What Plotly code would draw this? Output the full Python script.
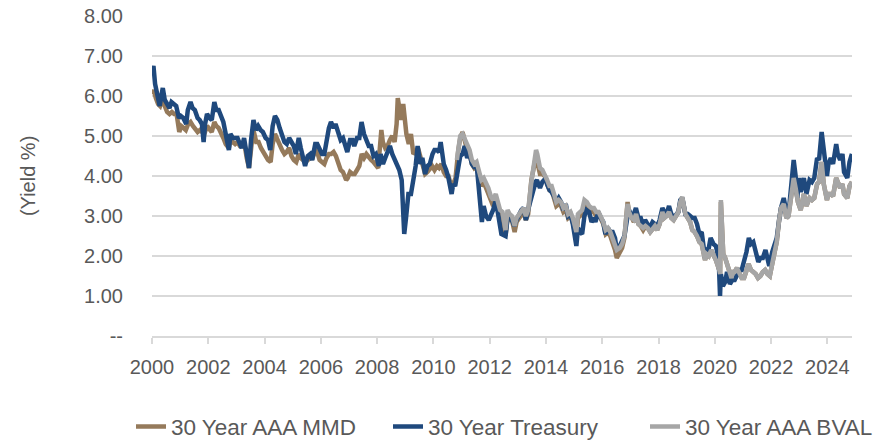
import plotly.graph_objects as go

# ---- data ----
treasury = [
("2000-01-03",6.60),("2000-01-20",6.75),("2000-02-10",6.30),("2000-03-01",6.15),("2000-03-20",5.95),
("2000-04-10",5.75),("2000-05-01",6.00),("2000-05-20",6.20),("2000-06-15",5.90),("2000-07-15",5.80),
("2000-08-15",5.70),("2000-09-10",5.85),("2000-10-10",5.80),("2000-11-10",5.75),("2000-12-15",5.45),
("2001-01-10",5.50),("2001-02-10",5.45),("2001-03-20",5.30),("2001-04-10",5.65),("2001-05-15",5.85),
("2001-06-10",5.70),("2001-07-10",5.65),("2001-08-15",5.45),("2001-09-10",5.40),("2001-10-10",5.30),
("2001-11-01",4.85),("2001-11-20",5.30),("2001-12-15",5.55),("2002-01-15",5.45),("2002-02-15",5.40),
("2002-03-20",5.85),("2002-04-15",5.65),("2002-05-15",5.65),("2002-06-15",5.50),("2002-07-15",5.35),
("2002-08-15",5.05),("2002-09-25",4.65),("2002-10-15",5.05),("2002-11-15",4.95),("2002-12-15",4.95),
("2003-01-15",4.95),("2003-02-15",4.80),("2003-03-10",4.70),("2003-04-10",4.95),("2003-05-10",4.50),
("2003-06-13",4.20),("2003-07-10",4.90),("2003-08-10",5.40),("2003-09-10",5.15),("2003-10-10",5.25),
("2003-11-10",5.15),("2003-12-10",5.10),("2004-01-15",4.95),("2004-02-15",4.90),("2004-03-15",4.65),
("2004-04-15",5.25),("2004-05-15",5.50),("2004-06-15",5.40),("2004-07-15",5.20),("2004-08-15",5.00),
("2004-09-15",4.85),("2004-10-15",4.80),("2004-11-15",4.95),("2004-12-15",4.85),("2005-01-15",4.75),
("2005-02-10",4.55),("2005-03-20",4.95),("2005-04-15",4.70),("2005-05-15",4.50),("2005-06-10",4.25),
("2005-07-15",4.50),("2005-08-15",4.55),("2005-09-10",4.40),("2005-10-20",4.80),("2005-11-15",4.80),
("2005-12-15",4.70),("2006-01-15",4.55),("2006-02-15",4.55),("2006-03-15",4.90),("2006-04-15",5.20),
("2006-05-12",5.35),("2006-06-15",5.20),("2006-07-10",5.30),("2006-08-15",5.05),("2006-09-15",4.90),
("2006-10-15",4.95),("2006-11-20",4.65),("2006-12-10",4.60),("2007-01-15",4.90),("2007-02-15",4.90),
("2007-03-10",4.75),("2007-04-15",4.95),("2007-05-15",4.95),("2007-06-13",5.35),("2007-07-15",5.05),
("2007-08-15",4.90),("2007-09-15",4.75),("2007-10-15",4.75),("2007-11-15",4.50),("2007-12-15",4.55),
("2008-01-23",4.25),("2008-02-15",4.55),("2008-03-17",4.30),("2008-04-15",4.45),("2008-05-15",4.60),
("2008-06-15",4.75),("2008-07-15",4.55),("2008-08-15",4.40),("2008-09-15",4.25),("2008-10-15",4.15),
("2008-11-15",3.90),("2008-12-05",3.10),("2008-12-18",2.55),("2009-01-10",2.95),("2009-02-10",3.55),
("2009-03-15",3.55),("2009-04-15",3.90),("2009-05-15",4.25),("2009-06-10",4.75),("2009-07-15",4.30),
("2009-08-10",4.45),("2009-09-15",4.05),("2009-10-15",4.25),("2009-11-15",4.30),("2009-12-20",4.55),
("2010-01-15",4.65),("2010-02-15",4.65),("2010-03-15",4.60),("2010-04-05",4.85),("2010-05-15",4.30),
("2010-06-15",4.15),("2010-07-15",3.95),("2010-08-25",3.55),("2010-09-15",3.80),("2010-10-10",3.75),
("2010-11-15",4.25),("2010-12-15",4.50),("2011-01-15",4.55),("2011-02-10",4.75),("2011-03-15",4.45),
("2011-04-10",4.60),("2011-05-15",4.30),("2011-06-25",4.20),("2011-07-15",4.30),("2011-08-15",3.65),
("2011-09-22",2.85),("2011-10-15",3.25),("2011-11-15",3.00),("2011-12-20",2.90),("2012-01-15",3.00),
("2012-02-15",3.15),("2012-03-20",3.40),("2012-04-15",3.10),("2012-05-15",2.85),("2012-06-01",2.55),
("2012-07-25",2.50),("2012-08-20",2.95),("2012-09-15",3.05),("2012-10-15",2.90),("2012-11-15",2.75),
("2012-12-15",2.90),("2013-01-15",3.05),("2013-02-15",3.15),("2013-03-15",3.20),("2013-04-15",2.90),
("2013-05-20",3.20),("2013-06-25",3.55),("2013-07-15",3.60),("2013-08-20",3.85),("2013-09-05",3.90),
("2013-10-15",3.70),("2013-11-15",3.85),("2013-12-31",3.95),("2014-01-15",3.80),("2014-02-15",3.65),
("2014-03-15",3.60),("2014-04-15",3.50),("2014-05-15",3.35),("2014-06-15",3.45),("2014-07-15",3.35),
("2014-08-15",3.15),("2014-09-15",3.30),("2014-10-15",3.00),("2014-11-15",3.05),("2014-12-15",2.80),
("2015-01-30",2.25),("2015-02-20",2.70),("2015-03-15",2.60),("2015-04-15",2.55),("2015-05-15",3.00),
("2015-06-10",3.15),("2015-07-15",3.10),("2015-08-15",2.85),("2015-09-15",2.95),("2015-10-05",2.85),
("2015-11-10",3.10),("2015-12-15",2.95),("2016-01-15",2.85),("2016-02-11",2.55),("2016-03-15",2.70),
("2016-04-15",2.60),("2016-05-15",2.60),("2016-06-15",2.45),("2016-07-08",2.15),("2016-08-15",2.25),
("2016-09-15",2.35),("2016-10-15",2.50),("2016-11-25",3.00),("2016-12-15",3.15),("2017-01-15",3.00),
("2017-02-15",3.05),("2017-03-13",3.20),("2017-04-15",2.95),("2017-05-15",2.95),("2017-06-15",2.75),
("2017-07-10",2.90),("2017-08-15",2.80),("2017-09-08",2.70),("2017-10-15",2.85),("2017-11-15",2.80),
("2017-12-15",2.75),("2018-01-15",2.90),("2018-02-20",3.20),("2018-03-15",3.10),("2018-04-15",3.05),
("2018-05-17",3.25),("2018-06-15",3.05),("2018-07-15",2.95),("2018-08-15",3.05),("2018-09-15",3.10),
("2018-10-10",3.40),("2018-11-05",3.45),("2018-12-15",3.05),("2019-01-15",3.05),("2019-02-15",3.00),
("2019-03-15",2.95),("2019-04-15",2.95),("2019-05-15",2.80),("2019-06-15",2.55),("2019-07-15",2.60),
("2019-08-28",1.95),("2019-09-15",2.15),("2019-10-15",2.20),("2019-11-08",2.45),("2019-12-15",2.30),
("2020-01-15",2.25),("2020-02-20",1.95),("2020-03-09",1.00),("2020-03-20",1.55),("2020-04-15",1.25),
("2020-05-15",1.35),("2020-06-08",1.60),("2020-07-15",1.30),("2020-08-15",1.40),("2020-09-15",1.40),
("2020-10-15",1.55),("2020-11-15",1.65),("2020-12-15",1.65),("2021-01-15",1.85),("2021-02-15",2.10),
("2021-03-18",2.45),("2021-04-15",2.30),("2021-05-15",2.35),("2021-06-15",2.15),("2021-07-19",1.85),
("2021-08-15",1.95),("2021-09-15",1.95),("2021-10-20",2.15),("2021-11-15",1.95),("2021-12-08",1.75),
("2022-01-15",2.10),("2022-02-15",2.30),("2022-03-15",2.45),("2022-04-15",2.90),("2022-05-09",3.20),
("2022-06-14",3.45),("2022-07-20",3.05),("2022-08-01",2.95),("2022-08-25",3.25),("2022-09-15",3.60),
("2022-10-21",4.40),("2022-11-15",4.00),("2022-12-07",3.45),("2022-12-30",3.95),("2023-01-20",3.60),
("2023-02-15",3.80),("2023-03-02",3.95),("2023-04-05",3.55),("2023-05-15",3.90),("2023-06-15",3.85),
("2023-07-15",3.95),("2023-08-21",4.45),("2023-09-15",4.40),("2023-10-19",5.10),("2023-11-15",4.65),
("2023-12-27",4.00),("2024-01-15",4.30),("2024-02-15",4.45),("2024-03-15",4.30),("2024-04-25",4.80),
("2024-05-15",4.55),("2024-06-15",4.40),("2024-07-15",4.55),("2024-08-05",4.10),("2024-09-16",3.95),
("2024-10-15",4.35),("2024-11-15",4.55),
]

mmd = [
("2000-01-03",6.05),("2000-01-25",6.15),("2000-02-20",5.95),("2000-03-20",5.80),("2000-04-15",5.75),
("2000-05-20",5.95),("2000-06-15",5.75),("2000-07-15",5.60),("2000-08-15",5.55),("2000-09-15",5.60),
("2000-10-15",5.55),("2000-11-15",5.55),("2000-12-20",5.10),("2001-01-15",5.25),("2001-02-15",5.20),
("2001-03-15",5.15),("2001-04-15",5.30),("2001-05-15",5.35),("2001-06-15",5.25),("2001-07-15",5.15),
("2001-08-15",5.10),("2001-09-15",5.15),("2001-10-15",5.10),("2001-11-10",5.05),("2001-12-15",5.25),
("2002-01-15",5.15),("2002-02-15",5.10),("2002-03-20",5.35),("2002-04-15",5.25),("2002-05-15",5.20),
("2002-06-15",5.10),("2002-07-15",4.95),("2002-08-15",4.80),("2002-09-25",4.70),("2002-10-15",4.90),
("2002-11-15",4.85),("2002-12-15",4.80),("2003-01-15",4.85),("2003-02-15",4.75),("2003-03-15",4.75),
("2003-04-15",4.80),("2003-05-15",4.45),("2003-06-13",4.20),("2003-07-20",4.85),("2003-08-10",5.15),
("2003-09-15",4.85),("2003-10-15",4.85),("2003-11-15",4.70),("2003-12-15",4.60),("2004-01-15",4.50),
("2004-02-15",4.40),("2004-03-20",4.35),("2004-04-15",4.80),("2004-05-15",5.05),("2004-06-15",4.90),
("2004-07-15",4.75),("2004-08-15",4.65),("2004-09-15",4.55),("2004-10-15",4.60),("2004-11-15",4.70),
("2004-12-15",4.50),("2005-01-15",4.40),("2005-02-15",4.35),("2005-03-20",4.55),("2005-04-15",4.45),
("2005-05-15",4.40),("2005-06-15",4.35),("2005-07-15",4.40),("2005-08-15",4.45),("2005-09-15",4.45),
("2005-10-20",4.65),("2005-11-15",4.60),("2005-12-15",4.40),("2006-01-15",4.35),("2006-02-15",4.30),
("2006-03-15",4.45),("2006-04-15",4.55),("2006-05-15",4.55),("2006-06-15",4.60),("2006-07-15",4.50),
("2006-08-15",4.30),("2006-09-15",4.15),("2006-10-15",4.10),("2006-11-25",3.90),("2006-12-15",3.95),
("2007-01-15",4.10),("2007-02-15",4.05),("2007-03-15",4.05),("2007-04-15",4.15),("2007-05-15",4.25),
("2007-06-15",4.55),("2007-07-15",4.45),("2007-08-15",4.55),("2007-09-15",4.45),("2007-10-15",4.40),
("2007-11-15",4.35),("2007-12-15",4.25),("2008-01-15",4.20),("2008-02-25",5.15),("2008-03-15",4.85),
("2008-04-15",4.70),("2008-05-15",4.75),("2008-06-15",4.90),("2008-07-15",5.00),("2008-08-15",4.85),
("2008-09-10",5.30),("2008-09-25",5.95),("2008-10-15",5.75),("2008-11-10",5.40),("2008-12-05",5.80),
("2008-12-25",5.25),("2009-01-15",5.05),("2009-02-15",4.80),("2009-03-15",5.05),("2009-04-15",4.55),
("2009-05-15",4.60),("2009-06-15",4.70),("2009-07-15",4.50),("2009-08-15",4.30),("2009-09-15",4.05),
("2009-10-15",4.10),("2009-11-15",4.20),("2009-12-15",4.25),("2010-01-15",4.15),("2010-02-15",4.25),
("2010-03-15",4.20),("2010-04-15",4.30),("2010-05-15",4.10),("2010-06-15",4.00),("2010-07-15",4.00),
("2010-08-20",3.75),("2010-09-15",3.80),("2010-10-15",3.95),("2010-11-20",4.65),("2010-12-15",4.95),
("2011-01-14",5.10),("2011-02-15",4.80),("2011-03-15",4.65),("2011-04-15",4.55),("2011-05-15",4.30),
("2011-06-15",4.20),("2011-07-15",4.25),("2011-08-15",3.95),("2011-09-15",3.75),("2011-10-15",3.85),
("2011-11-15",3.70),("2011-12-15",3.50),("2012-01-15",3.40),("2012-02-15",3.25),("2012-03-20",3.45),
("2012-04-15",3.25),("2012-05-15",3.05),("2012-06-15",2.95),("2012-07-25",2.50),("2012-08-20",2.95),
("2012-09-15",2.90),("2012-10-15",2.90),("2012-11-20",2.60),("2012-12-15",2.85),("2013-01-15",2.95),
("2013-02-15",3.05),("2013-03-15",3.10),("2013-04-15",2.90),("2013-05-15",3.05),("2013-06-25",3.90),
("2013-07-15",4.10),("2013-08-25",4.50),("2013-09-10",4.35),("2013-10-15",4.05),("2013-11-15",4.05),
("2013-12-15",4.00),("2014-01-15",3.80),("2014-02-15",3.65),("2014-03-15",3.65),("2014-04-15",3.45),
("2014-05-15",3.25),("2014-06-15",3.30),("2014-07-15",3.25),("2014-08-15",3.10),("2014-09-15",3.15),
("2014-10-15",2.95),("2014-11-15",3.00),("2014-12-15",2.85),("2015-01-30",2.45),("2015-02-20",2.95),
("2015-03-15",3.00),("2015-04-15",3.05),("2015-05-15",3.30),("2015-06-15",3.25),("2015-07-15",3.15),
("2015-08-15",3.10),("2015-09-15",3.10),("2015-10-15",3.00),("2015-11-15",3.05),("2015-12-15",2.95),
("2016-01-15",2.80),("2016-02-15",2.55),("2016-03-15",2.60),("2016-04-15",2.50),("2016-05-15",2.35),
("2016-06-15",2.15),("2016-07-08",1.95),("2016-08-15",2.10),("2016-09-15",2.20),("2016-10-15",2.45),
("2016-11-25",3.35),("2016-12-15",3.10),("2017-01-15",2.95),("2017-02-15",2.85),("2017-03-15",3.05),
("2017-04-15",2.80),("2017-05-15",2.75),("2017-06-15",2.65),("2017-07-15",2.75),("2017-08-15",2.70),
("2017-09-15",2.60),("2017-10-15",2.70),("2017-11-15",2.75),("2017-12-15",2.65),("2018-01-15",2.80),
("2018-02-20",3.10),("2018-03-15",2.95),("2018-04-15",3.00),("2018-05-17",3.10),("2018-06-15",2.95),
("2018-07-15",2.90),("2018-08-15",3.00),("2018-09-15",3.10),("2018-10-10",3.35),("2018-11-05",3.45),
("2018-12-15",3.05),("2019-01-15",2.95),("2019-02-15",2.85),("2019-03-15",2.65),("2019-04-15",2.60),
("2019-05-15",2.50),("2019-06-15",2.35),("2019-07-15",2.30),("2019-08-28",1.90),("2019-09-15",2.05),
("2019-10-15",2.00),("2019-11-15",2.15),("2019-12-15",2.05),("2020-01-15",1.90),("2020-02-28",1.65),
("2020-03-10",1.55),("2020-03-20",3.35),("2020-04-05",2.30),("2020-04-20",2.05),("2020-05-15",1.95),
("2020-06-15",1.75),("2020-07-15",1.50),("2020-08-05",1.45),("2020-08-20",1.60),("2020-09-15",1.60),
("2020-10-15",1.70),("2020-11-15",1.60),("2020-12-15",1.45),("2021-01-15",1.45),("2021-02-15",1.60),
("2021-03-15",1.80),("2021-04-15",1.65),("2021-05-15",1.60),("2021-06-15",1.55),("2021-07-15",1.45),
("2021-08-15",1.50),("2021-09-15",1.60),("2021-10-15",1.65),("2021-11-15",1.55),("2021-12-15",1.50),
("2022-01-15",1.80),("2022-02-15",2.10),("2022-03-15",2.35),("2022-04-15",2.90),("2022-05-09",3.20),
("2022-06-14",3.30),("2022-07-20",2.95),("2022-08-15",3.00),("2022-09-15",3.45),("2022-10-21",3.95),
("2022-11-15",3.70),("2022-12-15",3.35),("2023-01-20",3.15),("2023-02-15",3.40),("2023-03-02",3.55),
("2023-04-05",3.25),("2023-05-15",3.45),("2023-06-15",3.40),("2023-07-15",3.45),("2023-08-21",3.80),
("2023-09-15",3.85),("2023-10-19",4.35),("2023-11-15",3.80),("2023-12-27",3.40),("2024-01-15",3.55),
("2024-02-15",3.55),("2024-03-15",3.50),("2024-04-25",3.95),("2024-05-15",3.85),("2024-06-15",3.70),
("2024-07-15",3.80),("2024-08-05",3.55),("2024-09-16",3.45),("2024-10-15",3.75),("2024-11-15",3.85),
]

bval = [
("2010-11-01",4.40),("2010-11-20",4.70),("2010-12-15",5.00),("2011-01-14",5.05),("2011-02-15",4.90),
("2011-03-15",4.75),("2011-04-15",4.65),("2011-05-15",4.40),("2011-06-15",4.30),("2011-07-15",4.35),
("2011-08-15",4.10),("2011-09-15",3.90),("2011-10-15",3.95),("2011-11-15",3.85),("2011-12-15",3.70),
("2012-01-15",3.50),("2012-02-15",3.40),("2012-03-20",3.55),("2012-04-15",3.35),("2012-05-15",3.15),
("2012-06-15",3.10),("2012-07-25",2.65),("2012-08-20",3.15),("2012-09-15",3.05),("2012-10-15",3.00),
("2012-11-20",2.75),("2012-12-15",2.95),("2013-01-15",3.05),("2013-02-15",3.15),("2013-03-15",3.20),
("2013-04-15",3.00),("2013-05-15",3.15),("2013-06-25",3.85),("2013-07-15",4.15),("2013-08-25",4.65),
("2013-09-10",4.55),("2013-10-15",4.20),("2013-11-15",4.15),("2013-12-15",4.05),("2014-01-15",3.90),
("2014-02-15",3.75),("2014-03-15",3.75),("2014-04-15",3.55),("2014-05-15",3.35),("2014-06-15",3.40),
("2014-07-15",3.35),("2014-08-15",3.20),("2014-09-15",3.25),("2014-10-15",3.05),("2014-11-15",3.10),
("2014-12-15",2.95),("2015-01-30",2.60),("2015-02-20",3.05),("2015-03-15",3.10),("2015-04-15",3.15),
("2015-05-15",3.40),("2015-06-15",3.35),("2015-07-15",3.25),("2015-08-15",3.20),("2015-09-15",3.20),
("2015-10-15",3.10),("2015-11-15",3.10),("2015-12-15",3.00),("2016-01-15",2.85),("2016-02-15",2.65),
("2016-03-15",2.70),("2016-04-15",2.60),("2016-05-15",2.45),("2016-06-15",2.30),("2016-07-08",2.15),
("2016-08-15",2.20),("2016-09-15",2.30),("2016-10-15",2.50),("2016-11-25",3.30),("2016-12-15",3.10),
("2017-01-15",2.95),("2017-02-15",2.90),("2017-03-15",3.05),("2017-04-15",2.80),("2017-05-15",2.75),
("2017-06-15",2.70),("2017-07-15",2.75),("2017-08-15",2.70),("2017-09-15",2.60),("2017-10-15",2.70),
("2017-11-15",2.75),("2017-12-15",2.65),("2018-01-15",2.80),("2018-02-20",3.10),("2018-03-15",2.95),
("2018-04-15",3.00),("2018-05-17",3.10),("2018-06-15",2.95),("2018-07-15",2.90),("2018-08-15",3.00),
("2018-09-15",3.10),("2018-10-10",3.35),("2018-11-05",3.48),("2018-12-15",3.05),("2019-01-15",2.95),
("2019-02-15",2.85),("2019-03-15",2.65),("2019-04-15",2.60),("2019-05-15",2.50),("2019-06-15",2.35),
("2019-07-15",2.30),("2019-08-28",1.90),("2019-09-15",2.05),("2019-10-15",2.00),("2019-11-15",2.15),
("2019-12-15",2.05),("2020-01-15",1.90),("2020-02-28",1.65),("2020-03-10",1.55),("2020-03-20",3.40),
("2020-04-05",2.30),("2020-04-20",2.05),("2020-05-15",1.95),("2020-06-15",1.75),("2020-07-15",1.50),
("2020-08-05",1.45),("2020-08-20",1.60),("2020-09-15",1.60),("2020-10-15",1.70),("2020-11-15",1.60),
("2020-12-15",1.45),("2021-01-15",1.45),("2021-02-15",1.60),("2021-03-15",1.80),("2021-04-15",1.65),
("2021-05-15",1.60),("2021-06-15",1.55),("2021-07-15",1.45),("2021-08-15",1.50),("2021-09-15",1.60),
("2021-10-15",1.65),("2021-11-15",1.55),("2021-12-15",1.50),("2022-01-15",1.80),("2022-02-15",2.10),
("2022-03-15",2.35),("2022-04-15",2.90),("2022-05-09",3.20),("2022-06-14",3.30),("2022-07-20",2.95),
("2022-08-15",3.00),("2022-09-15",3.45),("2022-10-21",3.95),("2022-11-15",3.70),("2022-12-15",3.35),
("2023-01-20",3.15),("2023-02-15",3.40),("2023-03-02",3.55),("2023-04-05",3.25),("2023-05-15",3.45),
("2023-06-15",3.40),("2023-07-15",3.45),("2023-08-21",3.80),("2023-09-15",3.85),("2023-10-19",4.35),
("2023-11-15",3.80),("2023-12-27",3.40),("2024-01-15",3.55),("2024-02-15",3.55),("2024-03-15",3.50),
("2024-04-25",3.95),("2024-05-15",3.85),("2024-06-15",3.70),("2024-07-15",3.80),("2024-08-05",3.55),
("2024-09-16",3.45),("2024-10-15",3.75),("2024-11-15",3.85),
]

series_names = ["30 Year AAA MMD", "30 Year Treasury", "30 Year AAA BVAL"]
series_colors = ["#957A5B", "#1F497D", "#A6A6A6"]
y_tickvals = [0, 1, 2, 3, 4, 5, 6, 7, 8]
y_ticktext = ["--", "1.00", "2.00", "3.00", "4.00", "5.00", "6.00", "7.00", "8.00"]
x_tick_years = list(range(2000, 2025, 2))

FONT = "Liberation Sans"
TXT = "#595959"

fig = go.Figure()
for name, color, data in zip(series_names, series_colors, [mmd, treasury, bval]):
    fig.add_trace(go.Scatter(
        x=[d for d, _ in data], y=[v for _, v in data],
        mode="lines", name=name,
        line=dict(color=color, width=4.5),
    ))

fig.update_layout(
    width=885, height=440,
    margin=dict(l=152, r=33, t=16, b=104, autoexpand=False),
    paper_bgcolor="white", plot_bgcolor="white",
    font=dict(family=FONT, size=20, color=TXT),
    showlegend=True,
    legend=dict(orientation="h", x=-0.0300, xanchor="left", y=-0.284, yanchor="middle",
                font=dict(size=22.5, color=TXT), entrywidth=212, entrywidthmode="pixels",
                tracegroupgap=0, bgcolor="rgba(0,0,0,0)"),
    xaxis=dict(
        type="date",
        range=["2000-01-01", "2024-11-16"],
        tickvals=[f"{y}-01-01" for y in x_tick_years],
        ticktext=[str(y) for y in x_tick_years],
        showgrid=False, zeroline=False,
        showline=True, linecolor="#D9D9D9", linewidth=1.5,
        ticks="outside", ticklen=6, tickcolor="#D9D9D9", tickwidth=1.5,
        tickfont=dict(size=20, color=TXT),
        ticklabelstandoff=6, ticklabeloverflow="allow",
    ),
    yaxis=dict(
        range=[0, 8],
        tickvals=y_tickvals, ticktext=y_ticktext,
        showgrid=True, gridcolor="#D9D9D9", gridwidth=2,
        zeroline=False, showline=False, ticks="",
        tickfont=dict(size=20, color=TXT),
        ticklabelstandoff=28, ticklabeloverflow="allow",
    ),
    annotations=[dict(
        text="(Yield %)", textangle=-90, xref="paper", yref="paper",
        x=-0.177, y=0.5, xanchor="center", yanchor="middle", showarrow=False,
        font=dict(size=20, color=TXT),
    )],
)

# remove the browser's default 8px page margin so the figure sits at the window's top-left
fig.write_html("out.html", config={"displayModeBar": False},
               post_script="document.body.style.margin='0';")
